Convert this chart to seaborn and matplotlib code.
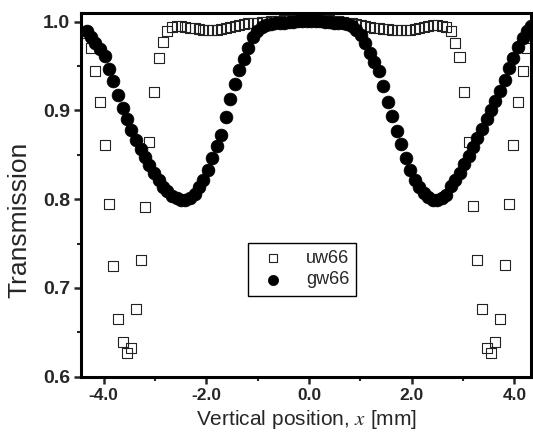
import matplotlib
matplotlib.use("Agg")
import matplotlib.pyplot as plt
from matplotlib.ticker import MultipleLocator, FormatStrFormatter
import seaborn as sns
import pandas as pd

# positions along the vertical scan [mm] (same grid for both samples)
x_pos = [
    -4.33, -4.24, -4.16, -4.07, -3.98, -3.89, -3.81, -3.72, -3.63, -3.54,
    -3.46, -3.37, -3.28, -3.19, -3.11, -3.02, -2.93, -2.84, -2.76, -2.67,
    -2.58, -2.49, -2.41, -2.32, -2.23, -2.14, -2.06, -1.97, -1.88, -1.79,
    -1.71, -1.62, -1.53, -1.44, -1.36, -1.27, -1.18, -1.09, -1.01, -0.92,
    -0.83, -0.74, -0.66, -0.57, -0.48, -0.39, -0.31, -0.22, -0.13, -0.04,
    0.04, 0.13, 0.22, 0.31, 0.39, 0.48, 0.57, 0.66, 0.74, 0.83,
    0.92, 1.01, 1.09, 1.18, 1.27, 1.36, 1.44, 1.53, 1.62, 1.71,
    1.79, 1.88, 1.97, 2.06, 2.14, 2.23, 2.32, 2.41, 2.49, 2.58,
    2.67, 2.76, 2.84, 2.93, 3.02, 3.11, 3.19, 3.28, 3.37, 3.46,
    3.54, 3.63, 3.72, 3.81, 3.89, 3.98, 4.07, 4.16, 4.24, 4.33,
]

uw66 = [
    0.987, 0.970, 0.944, 0.909, 0.861, 0.795, 0.725, 0.665, 0.639, 0.627,
    0.632, 0.676, 0.731, 0.791, 0.864, 0.921, 0.959, 0.977, 0.989, 0.994,
    0.995, 0.995, 0.994, 0.993, 0.993, 0.992, 0.991, 0.991, 0.991, 0.991,
    0.992, 0.993, 0.994, 0.995, 0.996, 0.997, 0.998, 0.998, 0.999, 1.000,
    1.000, 1.001, 1.001, 1.001, 1.002, 1.002, 1.002, 1.002, 1.002, 1.002,
    1.002, 1.002, 1.002, 1.002, 1.002, 1.001, 1.001, 1.000, 0.999, 0.998,
    0.997, 0.996, 0.995, 0.994, 0.993, 0.993, 0.992, 0.992, 0.991, 0.991,
    0.991, 0.991, 0.991, 0.992, 0.993, 0.994, 0.995, 0.996, 0.996, 0.995,
    0.994, 0.989, 0.976, 0.960, 0.921, 0.864, 0.792, 0.731, 0.676, 0.632,
    0.627, 0.639, 0.665, 0.726, 0.795, 0.861, 0.909, 0.944, 0.970, 0.987,
]

gw66 = [
    0.989, 0.983, 0.976, 0.969, 0.961, 0.947, 0.933, 0.917, 0.903, 0.890,
    0.878, 0.867, 0.856, 0.847, 0.838, 0.829, 0.822, 0.814, 0.809, 0.804,
    0.801, 0.799, 0.799, 0.801, 0.806, 0.814, 0.822, 0.833, 0.846, 0.860,
    0.872, 0.893, 0.913, 0.930, 0.945, 0.958, 0.970, 0.983, 0.990, 0.994,
    0.996, 0.997, 0.998, 0.999, 0.999, 1.000, 1.000, 1.001, 1.001, 1.001,
    1.001, 1.001, 1.001, 1.000, 1.000, 0.999, 0.999, 0.998, 0.997, 0.995,
    0.991, 0.985, 0.976, 0.965, 0.955, 0.944, 0.927, 0.910, 0.894, 0.877,
    0.862, 0.846, 0.833, 0.822, 0.814, 0.807, 0.802, 0.799, 0.799, 0.801,
    0.805, 0.815, 0.822, 0.830, 0.840, 0.849, 0.859, 0.869, 0.879, 0.890,
    0.900, 0.911, 0.922, 0.934, 0.948, 0.959, 0.972, 0.982, 0.990, 0.995,
]

sns.set_style("ticks")
plt.rcParams["font.family"] = ["Liberation Sans", "DejaVu Sans"]
plt.rcParams["mathtext.fontset"] = "stix"
plt.rcParams["axes.unicode_minus"] = False

df_uw = pd.DataFrame({"x": x_pos, "T": uw66})
df_gw = pd.DataFrame({"x": x_pos, "T": gw66})

fig = plt.figure(figsize=(5.33, 4.41), dpi=100)
ax = fig.add_axes([0.152, 0.146, 0.845, 0.825])

sns.scatterplot(
    data=df_uw, x="x", y="T", ax=ax, marker="s", s=52,
    facecolor="none", edgecolor="#222222", linewidth=0.8,
    label="uw66", zorder=2,
)
sns.scatterplot(
    data=df_gw, x="x", y="T", ax=ax, marker="o", s=85,
    color="black", edgecolor="black", linewidth=0.5,
    label="gw66", zorder=3,
)

ax.set_xlim(-4.44, 4.33)
ax.set_ylim(0.6, 1.01)

ax.xaxis.set_major_locator(MultipleLocator(2.0))
ax.xaxis.set_minor_locator(MultipleLocator(1.0))
ax.yaxis.set_major_locator(MultipleLocator(0.1))
ax.yaxis.set_minor_locator(MultipleLocator(0.05))
ax.xaxis.set_major_formatter(FormatStrFormatter("%.1f"))
ax.yaxis.set_major_formatter(FormatStrFormatter("%.1f"))

ax.tick_params(axis="both", which="major", direction="out", length=5,
               width=1.8, pad=3)
ax.tick_params(axis="x", which="major", labelsize=12.5)
ax.tick_params(axis="y", which="major", labelsize=14)
ax.tick_params(axis="both", which="minor", direction="out", length=3,
               width=1.5)
for lbl in ax.get_xticklabels() + ax.get_yticklabels():
    lbl.set_fontweight("bold")

for side in ["left", "right", "top", "bottom"]:
    ax.spines[side].set_visible(True)
    ax.spines[side].set_linewidth(2.2)
    ax.spines[side].set_color("black")

ax.set_xlabel("Vertical position, $x$ [mm]", fontsize=15, labelpad=4)
ax.set_ylabel("Transmission", fontsize=19)
ax.yaxis.set_label_coords(-0.11, 0.43)

leg = ax.legend(
    loc="upper left", bbox_to_anchor=(0.371, 0.368), borderaxespad=0,
    fontsize=13, frameon=True, fancybox=False, edgecolor="black",
    handletextpad=0.8, labelspacing=0.25, borderpad=0.4, markerscale=0.8,
)
leg.get_frame().set_linewidth(1.0)
leg.get_frame().set_alpha(1)

plt.savefig("out.png", dpi=100)
